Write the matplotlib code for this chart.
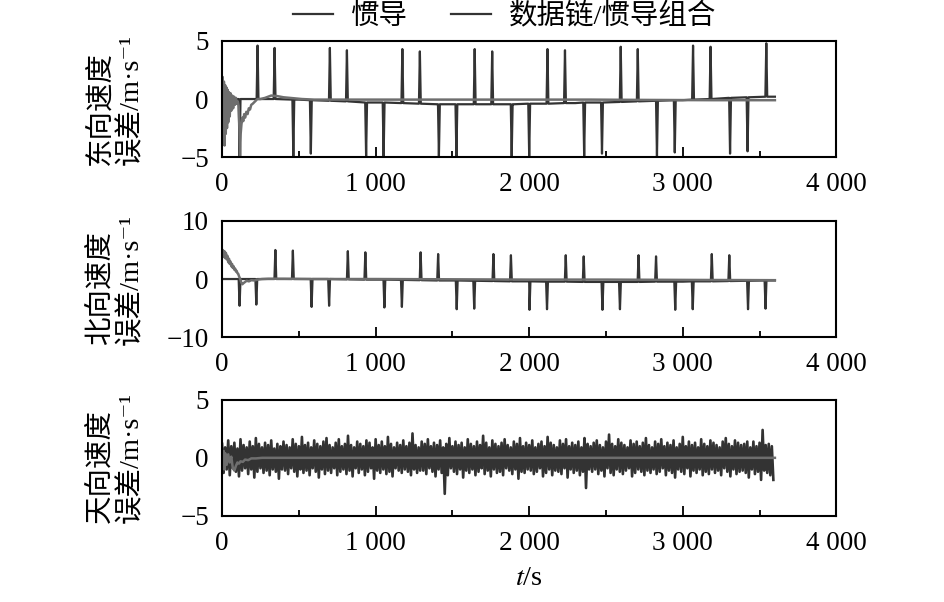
import numpy as np
import matplotlib
matplotlib.use("Agg")
import matplotlib.pyplot as plt
from matplotlib.ticker import MultipleLocator, FuncFormatter

plt.rcParams['font.family'] = ['Liberation Serif', 'Noto Sans CJK SC', 'DejaVu Serif']
plt.rcParams['mathtext.fontset'] = 'stix'
plt.rcParams['path.simplify'] = False

DARK = '#333333'
GRAY = '#6e6e6e'

# ---- east velocity error ----
# inertial (惯导): slow baseline plus spikes
east_base_t = [0, 300, 500, 800, 1000, 1400, 1900, 2300, 2700, 3000, 3300, 3600]
east_base_v = [0.0, 0.0, -0.05, -0.2, -0.3, -0.45, -0.45, -0.35, -0.2, -0.1, 0.1, 0.2]
east_spike_t = [114, 231, 342, 464, 578, 702, 813, 938, 1052, 1174, 1288, 1412, 1526,
                1645, 1759, 1886, 2000, 2119, 2233, 2358, 2474, 2596, 2707, 2832,
                2948, 3067, 3181, 3308, 3422, 3544]
east_spike_v = [-4.9, 4.6, 4.4, -4.9, -4.7, 4.4, 4.2, -4.9, -4.9, 4.3, 4.1, -4.9, -4.9,
                4.3, 4.1, -4.9, -4.9, 4.3, 4.2, -4.9, -4.7, 4.5, 4.3, -4.9,
                -4.6, 4.6, 4.5, -4.7, -4.5, 4.8]
east_spike_base = [0.0, 0.0, 0.0, -0.05, -0.1, -0.15, -0.2, -0.3, -0.3, -0.35, -0.4, -0.45, -0.45,
                   -0.45, -0.45, -0.45, -0.4, -0.4, -0.35, -0.3, -0.3, -0.25, -0.2, -0.15,
                   -0.1, -0.05, 0.0, 0.1, 0.15, 0.2]
# integrated (数据链/惯导组合)
east_int_t = [0, 4, 8, 12, 16, 20, 24, 28, 32, 36, 40, 45, 50, 55, 60, 66, 72, 78, 84, 90,
              96, 102, 108, 113, 117, 121, 126, 132, 138, 144, 150, 158, 166, 174, 182,
              190, 200, 215, 230, 250, 280, 320, 360, 400, 440, 480, 520, 600, 800,
              1200, 1600, 2000, 2400, 2800, 3200, 3600]
east_int_v = [0.0, 1.9, -3.8, 1.5, -4.0, 1.2, -3.0, 1.0, -2.5, 0.8, -2.0, 0.6, -1.5, 0.5,
              -1.0, 0.3, -0.8, 0.2, -0.5, 0.1, -0.4, -0.2, -0.6, -2.5, -4.9, -3.0, -2.2,
              -1.6, -1.9, -1.3, -1.6, -1.1, -1.3, -0.8, -0.9, -0.5, -0.4, -0.2, 0.0, 0.0,
              0.1, 0.3, 0.25, 0.15, 0.1, 0.05, 0.0, -0.05, -0.05, -0.05, -0.05, -0.05,
              -0.05, -0.08, -0.1, -0.1]

# ---- north velocity error ----
north_base_t = [0, 500, 1000, 1500, 2000, 2500, 3000, 3600]
north_base_v = [0.0, 0.0, -0.1, -0.25, -0.4, -0.5, -0.45, -0.25]
north_spike_t = [114, 223, 347, 461, 583, 697, 819, 933, 1057, 1171, 1293, 1407, 1528,
                 1642, 1767, 1881, 2002, 2116, 2238, 2355, 2477, 2591, 2712, 2826,
                 2951, 3065, 3189, 3303, 3425, 3539]
north_spike_v = [-4.6, -4.4, 5.0, 4.9, -4.8, -4.6, 4.8, 4.6, -4.9, -4.8, 4.6, 4.3, -5.2,
                 -5.1, 4.3, 4.1, -5.3, -5.2, 4.1, 3.9, -5.3, -5.2, 4.1, 3.9,
                 -5.3, -5.2, 4.3, 4.1, -5.2, -5.1]
north_spike_base = [0.0, 0.0, 0.0, 0.0, 0.0, 0.0, -0.05, -0.1, -0.1, -0.15, -0.2, -0.25, -0.25,
                    -0.3, -0.35, -0.4, -0.4, -0.45, -0.45, -0.5, -0.5, -0.5, -0.5, -0.45,
                    -0.45, -0.4, -0.4, -0.35, -0.3, -0.25]
north_int_t = [0, 5, 10, 15, 20, 25, 30, 35, 40, 45, 50, 55, 60, 65, 70, 75, 80, 85, 90,
               95, 100, 105, 110, 118, 125, 132, 140, 150, 160, 175, 190, 210, 230, 260,
               300, 400, 600, 1000, 1500, 2000, 2500, 3000, 3600]
north_int_v = [4.2, 5.0, 3.8, 4.8, 3.6, 4.5, 3.4, 4.0, 2.9, 3.5, 2.6, 3.0, 2.2, 2.6, 1.9,
               2.2, 1.6, 1.8, 1.3, 1.4, 1.0, 0.9, 0.5, 0.0, -0.6, -0.9, -0.7, -0.5, -0.3,
               -0.4, -0.2, -0.25, -0.1, 0.0, 0.05, 0.05, 0.0, 0.0, -0.05, -0.1, -0.1,
               -0.15, -0.2]

# ---- up velocity error ----
# inertial: noise peaks read every 20 s (upper at t, lower at t + 10)
up_peak_hi = [1.2, 0.9, 1.5, 1.0, 1.3, 0.8, 1.6, 1.1, 0.9, 1.4, 1.0, 1.7, 1.2, 0.9, 1.3, 1.1, 1.5, 0.8, 1.2, 1.0,
              1.4, 1.1, 0.9, 1.6, 1.2, 1.0, 1.8, 1.1, 1.3, 0.9, 1.5, 1.2, 1.0, 1.4, 1.7, 1.1, 0.9, 1.3, 1.6, 1.0,
              1.2, 1.9, 1.1, 0.9, 1.4, 1.2, 1.0, 1.5, 1.3, 0.9, 1.6, 1.1, 1.4, 1.0, 1.8, 1.2, 0.9, 1.3, 1.1, 1.5,
              1.0, 1.3, 2.1, 1.1, 0.9, 1.4, 1.2, 1.6, 1.0, 1.3, 1.1, 1.5, 0.9, 1.2, 1.7, 1.0, 1.4, 1.1, 1.3, 0.9,
              1.6, 1.2, 1.0, 1.4, 1.1, 1.9, 1.3, 0.9, 1.5, 1.2, 1.0, 1.3, 1.6, 1.1, 0.9, 1.4, 1.2, 1.7, 1.0, 1.3,
              1.1, 1.5, 0.9, 1.2, 1.4, 1.0, 1.8, 1.3, 1.1, 0.9, 1.5, 1.2, 1.6, 1.0, 1.3, 1.1, 1.4, 0.9, 1.7, 1.2,
              1.0, 1.3, 1.5, 1.1, 0.9, 1.4, 2.0, 1.2, 1.0, 1.6, 1.3, 1.1, 0.9, 1.5, 1.2, 1.4, 1.0, 1.3, 1.7, 1.1,
              0.9, 1.4, 1.2, 1.6, 1.0, 1.3, 1.1, 1.5, 0.9, 1.2, 1.8, 1.0, 1.4, 1.1, 1.3, 0.9, 1.6, 1.2, 1.0, 1.5,
              1.3, 1.1, 0.9, 1.4, 1.7, 1.2, 1.0, 1.5, 1.3, 1.1, 1.2, 1.4, 0.9, 1.4, 1.0, 1.3, 2.4, 1.1, 1.2, 1.0]
up_peak_lo = [-1.3, -1.0, -1.5, -0.9, -1.2, -1.6, -1.1, -0.9, -1.4, -1.0, -1.7, -1.2, -0.9, -1.3, -1.1, -1.5, -1.0, -1.2, -1.8, -1.0,
              -1.1, -1.4, -0.9, -1.2, -1.6, -1.0, -1.3, -1.1, -1.5, -0.9, -1.2, -1.7, -1.0, -1.4, -1.1, -1.3, -0.9, -1.5, -1.2, -1.0,
              -1.4, -1.1, -1.6, -0.9, -1.3, -1.0, -1.5, -1.2, -0.9, -1.8, -1.1, -1.3, -1.0, -1.4, -1.2, -1.6, -0.9, -1.1, -1.3, -1.0,
              -1.2, -1.5, -1.0, -1.3, -1.1, -1.1, -1.4, -0.9, -1.2, -1.6, -1.0, -1.3, -3.1, -1.5, -0.9, -1.2, -1.4, -1.0, -1.7, -1.1,
              -1.3, -1.0, -1.5, -1.2, -0.9, -1.4, -1.1, -1.6, -1.0, -1.3, -1.2, -1.5, -0.9, -1.1, -1.4, -1.0, -1.8, -1.2, -1.3, -1.0,
              -1.1, -1.4, -1.2, -0.9, -1.6, -1.3, -1.0, -1.5, -1.1, -1.2, -1.4, -0.9, -1.7, -1.0, -1.3, -1.1, -1.5, -1.2, -2.6, -1.0,
              -1.2, -1.0, -1.4, -1.1, -1.6, -0.9, -1.3, -1.5, -1.0, -1.2, -1.4, -1.1, -0.9, -1.6, -1.3, -1.0, -1.2, -1.5, -1.1, -1.3,
              -1.0, -1.4, -1.2, -0.9, -1.5, -1.1, -1.3, -1.7, -1.0, -1.2, -1.4, -0.9, -1.6, -1.1, -1.3, -1.0, -1.5, -1.2, -1.4, -1.0,
              -1.3, -1.1, -1.5, -0.9, -1.2, -1.6, -1.0, -1.4, -1.2, -1.1, -1.3, -1.7, -1.0, -1.4, -1.2, -1.9, -1.1, -1.3, -1.5, -1.9]
up_int_t = [0, 5, 10, 15, 20, 30, 40, 50, 60, 70, 80, 90, 100, 110, 120, 135, 150, 170,
            190, 220, 260, 300, 400, 800, 1600, 2400, 3200, 3600]
up_int_v = [0.3, -0.8, 0.6, -1.0, 0.4, -0.6, 0.3, -0.4, 0.1, -0.9, -1.1, -0.7, -0.4,
            -0.5, -0.3, -0.35, -0.15, -0.2, -0.05, -0.05, 0.0, 0.0, 0.0, 0.0, 0.0, 0.0, 0.0, 0.0]

SPIKE_HALF = 6  # s, half width of a spike foot


def spiky(base_t, base_v, sp_t, sp_v, sp_b):
    t = list(base_t)
    v = list(base_v)
    for ti, vi, bi in zip(sp_t, sp_v, sp_b):
        t += [ti - SPIKE_HALF, ti, ti + SPIKE_HALF]
        v += [bi, vi, bi]
    order = np.argsort(t, kind='stable')
    return np.array(t)[order], np.array(v)[order]


east_t, east_v = spiky(east_base_t, east_base_v, east_spike_t, east_spike_v, east_spike_base)
north_t, north_v = spiky(north_base_t, north_base_v, north_spike_t, north_spike_v, north_spike_base)

hi_t = np.arange(len(up_peak_hi)) * 20
up_t = np.empty(2 * len(hi_t))
up_t[0::2] = hi_t
up_t[1::2] = hi_t + 10
up_v = np.empty(2 * len(hi_t))
up_v[0::2] = up_peak_hi
up_v[1::2] = up_peak_lo

fig = plt.figure(figsize=(9.45, 6.02), dpi=100)
x0, w, h = 0.235, 0.650, 0.193
bottoms = [0.739, 0.440, 0.143]

panels = [
    (east_t, east_v, east_int_t, east_int_v, (-5, 5), 5, '东向速度\n误差/m·s⁻¹'),
    (north_t, north_v, north_int_t, north_int_v, (-10, 10), 10, '北向速度\n误差/m·s⁻¹'),
    (up_t, up_v, up_int_t, up_int_v, (-5, 5), 5, '天向速度\n误差/m·s⁻¹'),
]

fmt = FuncFormatter(lambda v, p: f"{int(round(v)):,}".replace(",", " "))

for i, (t1, v1, t2, v2, ylim, ystep, ylab) in enumerate(panels):
    ax = fig.add_axes([x0, bottoms[i], w, h])
    lw1 = 1.9 if i == 2 else 1.6
    ax.plot(t1, v1, color=DARK, lw=lw1, label='惯导')
    ax.plot(t2, v2, color=GRAY, lw=1.8, label='数据链/惯导组合')
    ax.set_xlim(0, 4000)
    ax.set_ylim(*ylim)
    ax.yaxis.set_major_locator(MultipleLocator(ystep))
    ax.xaxis.set_major_locator(MultipleLocator(1000))
    ax.xaxis.set_minor_locator(MultipleLocator(500))
    ax.xaxis.set_major_formatter(fmt)
    ax.tick_params(axis='both', which='both', direction='in', top=False, right=False,
                   labelsize=19.5, width=1.3)
    ax.tick_params(axis='x', which='both', pad=11)
    ax.tick_params(axis='y', which='both', pad=9.5)
    ax.tick_params(axis='x', which='major', length=7)
    ax.tick_params(axis='x', which='minor', length=4)
    ax.tick_params(axis='y', which='major', length=0)
    for s in ax.spines.values():
        s.set_linewidth(1.5)
    ax.set_ylabel(ylab, fontsize=20.5, linespacing=1.15, multialignment='left')
    ax.yaxis.set_label_coords(-0.127, 0.5)
    if i == 0:
        handles, labels = ax.get_legend_handles_labels()
    if i == 2:
        ax.set_xlabel('$t$/s', fontsize=20.5, labelpad=7)

leg = fig.legend(handles, labels, loc='upper center', bbox_to_anchor=(0.534, 1.0), ncol=2,
                 frameon=False, fontsize=20.5, handlelength=1.4, handletextpad=0.65,
                 columnspacing=1.5, borderaxespad=0.0, borderpad=0.1)
for line in leg.get_lines():
    line.set_linewidth(1.6)
    line.set_color(DARK)

fig.savefig('out.png', dpi=100)
